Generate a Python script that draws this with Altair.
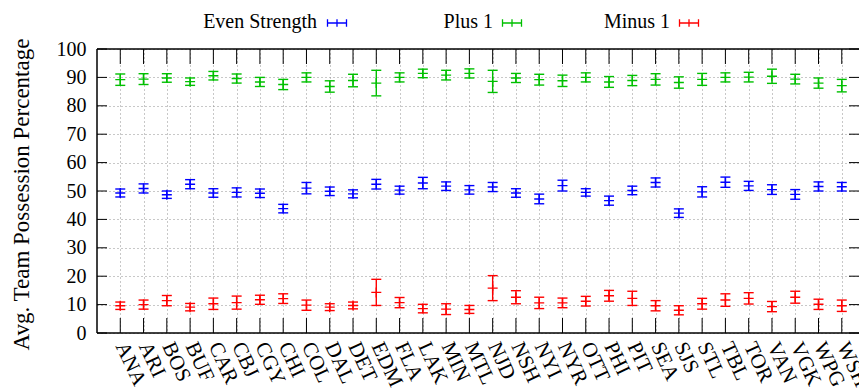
import json
import altair as alt
import pandas as pd

teams = ["ANA", "ARI", "BOS", "BUF", "CAR", "CBJ", "CGY", "CHI", "COL", "DAL",
         "DET", "EDM", "FLA", "LAK", "MIN", "MTL", "NJD", "NSH", "NYI", "NYR",
         "OTT", "PHI", "PIT", "SEA", "SJS", "STL", "TBL", "TOR", "VAN", "VGK",
         "WPG", "WSH"]

even_val = [49.3, 50.9, 48.7, 52.4, 49.3, 49.5, 49.2, 43.8, 51.0, 49.9,
            49.0, 52.4, 50.3, 52.8, 51.7, 50.4, 51.4, 49.3, 47.2, 51.9,
            49.5, 46.6, 50.2, 53.0, 42.2, 49.7, 53.1, 51.8, 50.5, 48.8,
            51.6, 51.5]
even_err = [1.4, 1.6, 1.3, 1.6, 1.5, 1.6, 1.5, 1.5, 2.0, 1.5,
            1.4, 1.7, 1.4, 2.0, 1.5, 1.5, 1.6, 1.5, 1.7, 1.9,
            1.3, 1.6, 1.5, 1.6, 1.5, 1.8, 1.8, 1.6, 1.7, 1.7,
            1.6, 1.5]
plus_val = [89.2, 89.4, 89.8, 88.5, 90.6, 89.6, 88.4, 87.5, 90.0, 86.8,
            88.9, 88.0, 90.0, 91.4, 90.8, 91.4, 88.6, 89.8, 89.2, 88.8,
            90.0, 88.4, 88.9, 89.3, 88.2, 89.3, 90.0, 90.1, 90.4, 89.4,
            88.0, 87.1]
plus_err = [2.0, 1.9, 1.5, 1.3, 1.5, 1.6, 1.6, 1.8, 1.6, 2.0,
            2.2, 4.5, 1.6, 1.5, 1.7, 1.6, 3.9, 1.6, 1.9, 2.0,
            1.6, 1.9, 1.8, 2.0, 2.0, 2.1, 1.6, 1.7, 2.5, 1.7,
            1.8, 2.2]
minus_val = [9.6, 10.0, 11.4, 9.1, 10.3, 10.7, 11.7, 12.1, 9.8, 9.1,
             9.7, 14.3, 10.7, 8.6, 8.4, 8.3, 15.8, 12.6, 10.6, 10.6,
             11.2, 13.1, 12.2, 9.6, 8.0, 10.3, 11.6, 12.2, 9.3, 12.6,
             10.1, 9.6]
minus_err = [1.3, 1.6, 1.8, 1.3, 2.0, 2.3, 1.6, 1.7, 1.8, 1.2,
             1.2, 4.6, 1.8, 1.5, 1.9, 1.4, 4.4, 2.3, 2.0, 1.7,
             1.7, 1.9, 2.5, 1.8, 1.6, 1.9, 2.2, 2.0, 1.8, 2.1,
             1.8, 2.0]

series_names = ["Even Strength", "Plus 1", "Minus 1"]
series_colors = ["#0000ff", "#00c000", "#ff0000"]
y_ticks = list(range(0, 101, 10))

rows = []
for name, vals, errs in zip(series_names,
                            [even_val, plus_val, minus_val],
                            [even_err, plus_err, minus_err]):
    for i, (v, e) in enumerate(zip(vals, errs)):
        rows.append({"idx": i, "team": teams[i], "series": name,
                     "val": v, "lo": v - e, "hi": v + e})
df = pd.DataFrame(rows)
team_df = pd.DataFrame({"idx": list(range(len(teams))), "team": teams})
ytick_df = pd.DataFrame({"val": y_ticks})

W, H = 762, 284
FONT = "Liberation Serif"

x_enc = alt.X("idx:Q",
              scale=alt.Scale(domain=[-1, 31.74], nice=False, zero=False),
              axis=alt.Axis(values=list(range(len(teams))),
                            labelExpr=json.dumps(teams) + "[datum.value]",
                            labelAngle=65, labelAlign="left",
                            labelBaseline="middle", labelPadding=10,
                            labelFont=FONT, labelFontSize=21,
                            labelColor="black", ticks=False, domain=False,
                            grid=True, gridDash=[1, 3], gridColor="#909090",
                            gridWidth=1, title=None, labelOverlap=False,
                            labelBound=False, labelFlush=False))

y_axis = alt.Axis(values=y_ticks, labelFont=FONT, labelFontSize=20,
                  labelColor="black", labelPadding=11, ticks=False,
                  domain=False, grid=True, gridDash=[1, 3],
                  gridColor="#909090", gridWidth=1,
                  title="Avg. Team Possession Percentage",
                  titleFont=FONT, titleFontSize=23,
                  titleFontWeight="normal", titleColor="black",
                  titleX=-76, titleY=145, titleAlign="center",
                  titleBaseline="middle", titleAngle=-90)
y_scale = alt.Scale(domain=[0, 100], nice=False)


def y_enc(field):
    return alt.Y(field + ":Q", scale=y_scale, axis=y_axis,
                 title="Avg. Team Possession Percentage")


color_enc = alt.Color("series:N",
                      scale=alt.Scale(domain=series_names, range=series_colors),
                      legend=None)

base = alt.Chart(df)
bars = base.mark_rule(strokeWidth=1.4).encode(
    x=x_enc, y=y_enc("lo"), y2="hi:Q", color=color_enc)
cap_shape = "M-1,0L1,0"
plus_shape = "M-1,0L1,0M0,-1L0,1"
caps_lo = base.mark_point(shape=cap_shape, size=100, filled=False, opacity=1,
                          strokeWidth=1.4).encode(
    x=x_enc, y=y_enc("lo"), stroke=color_enc)
caps_hi = base.mark_point(shape=cap_shape, size=100, filled=False, opacity=1,
                          strokeWidth=1.4).encode(
    x=x_enc, y=y_enc("hi"), stroke=color_enc)
centers = base.mark_point(shape=plus_shape, size=100, filled=False, opacity=1,
                          strokeWidth=1.4).encode(
    x=x_enc, y=y_enc("val"), stroke=color_enc)

# inward tick marks on all four sides
xt_bottom = alt.Chart(team_df).mark_rule(color="black", strokeWidth=1).encode(
    x=x_enc, y=alt.value(H), y2=alt.value(H - 15))
xt_top = alt.Chart(team_df).mark_rule(color="black", strokeWidth=1).encode(
    x=x_enc, y=alt.value(0), y2=alt.value(15))
yt_left = alt.Chart(ytick_df).mark_rule(color="black", strokeWidth=1).encode(
    y=y_enc("val"), x=alt.value(0), x2=alt.value(10))
yt_right = alt.Chart(ytick_df).mark_rule(color="black", strokeWidth=1).encode(
    y=y_enc("val"), x=alt.value(W - 10), x2=alt.value(W))

frame_df = pd.DataFrame({"k": [0]})
fr = alt.Chart(frame_df)
frame_left = fr.mark_rule(color="black", strokeWidth=1.5).encode(
    x=alt.value(0), y=alt.value(0), y2=alt.value(H))
frame_top = fr.mark_rule(color="black", strokeWidth=1.5).encode(
    x=alt.value(0), x2=alt.value(W), y=alt.value(0))
frame_bottom = fr.mark_rule(color="black", strokeWidth=1.5).encode(
    x=alt.value(0), x2=alt.value(W), y=alt.value(H))

# legend (text then errorbar sample), as in the original
legend_layers = []
leg_text_x = [220, 396, 573]
leg_sym_x = [240, 415, 592]
legend_shape = "M-1,0L1,0M-1,-0.4L-1,0.4M1,-0.4L1,0.4M0,-0.4L0,0.4"
for name, col, tx, sx in zip(series_names, series_colors, leg_text_x, leg_sym_x):
    legend_layers.append(fr.mark_text(font=FONT, fontSize=20, align="right",
                                      baseline="middle", color="black").encode(
        x=alt.value(tx), y=alt.value(-27), text=alt.value(name)))
    legend_layers.append(fr.mark_point(shape=legend_shape, size=361,
                                       filled=False, opacity=1, stroke=col,
                                       strokeWidth=1.3).encode(
        x=alt.value(sx), y=alt.value(-26)))

chart = alt.layer(
    centers, bars, caps_lo, caps_hi,
    xt_bottom, xt_top, yt_left, yt_right,
    frame_left, frame_top, frame_bottom,
    *legend_layers
).properties(
    width=W, height=H,
    autosize=alt.AutoSizeParams(type="none"),
    padding={"left": 97, "top": 49, "right": 0, "bottom": 59},
    background="white",
).configure_view(stroke=None)

chart.save("out.html", embed_options={"renderer": "svg", "actions": False})
